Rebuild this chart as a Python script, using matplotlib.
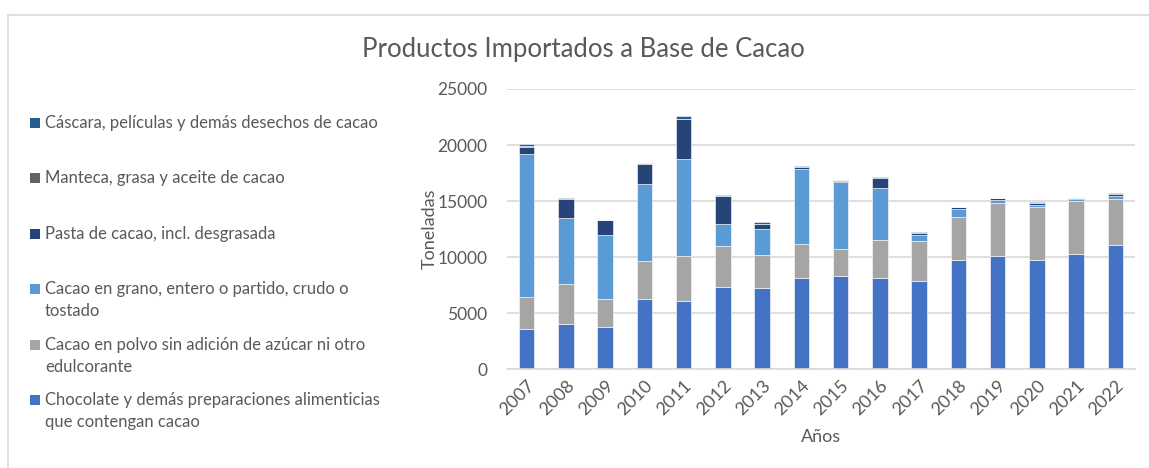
import matplotlib.pyplot as plt
from matplotlib.patches import Rectangle
import numpy as np

plt.rcParams['font.family'] = ['Lato', 'DejaVu Sans']

years = ['2007', '2008', '2009', '2010', '2011', '2012', '2013', '2014',
         '2015', '2016', '2017', '2018', '2019', '2020', '2021', '2022']

chocolate = [3570, 4050, 3720, 6220, 6040, 7320, 7230, 8100, 8270, 8100, 7830, 9700, 10060, 9700, 10300, 11100]
polvo = [2860, 3540, 2500, 3390, 4020, 3690, 2920, 3060, 2470, 3390, 3600, 3870, 4730, 4760, 4670, 4110]
grano = [12800, 5920, 5710, 6880, 8660, 1970, 2320, 6700, 5960, 4670, 560, 750, 270, 150, 180, 240]
pasta = [590, 1700, 1340, 1840, 3570, 2470, 510, 180, 50, 890, 180, 110, 180, 210, 90, 200]
manteca = [100, 0, 0, 30, 0, 0, 0, 0, 100, 0, 0, 0, 0, 0, 0, 0]
cascara = [200, 90, 60, 30, 300, 120, 170, 90, 50, 50, 60, 40, 50, 60, 50, 90]

series_names = [
    'Chocolate y demás preparaciones alimenticias\nque contengan cacao',
    'Cacao en polvo sin adición de azúcar ni otro\nedulcorante',
    'Cacao en grano, entero o partido, crudo o\ntostado',
    'Pasta de cacao, incl. desgrasada',
    'Manteca, grasa y aceite de cacao',
    'Cáscara, películas y demás desechos de cacao',
]
series_values = [chocolate, polvo, grano, pasta, manteca, cascara]
colors = ['#4472C4', '#A5A5A5', '#5B9BD5', '#264478', '#636363', '#255E91']

text_color = '#595959'
grid_color = '#D9D9D9'

fig = plt.figure(figsize=(11.49, 4.68), dpi=100)

# chart frame, only left and top edges fall inside the picture
fig.patches.append(Rectangle((8 / 1149, -0.1), 1.2, (468 - 15) / 468 + 0.1,
                             transform=fig.transFigure, fill=False,
                             edgecolor=grid_color, linewidth=1.2))

ax = fig.add_axes([507 / 1149, 99 / 468, 628 / 1149, 280 / 468])

x = np.arange(len(years))
bottom = np.zeros(len(years))
for vals, color in zip(series_values, colors):
    ax.bar(x, vals, width=0.4, bottom=bottom, color=color,
           edgecolor='white', linewidth=0.4)
    bottom += np.array(vals)

ax.set_xlim(-0.5, len(years) - 0.5)
ax.set_ylim(0, 25000)
ax.set_yticks(np.arange(0, 25001, 5000))
ax.yaxis.grid(True, color=grid_color, linewidth=1.2)
ax.set_axisbelow(True)
for side in ['top', 'right', 'left']:
    ax.spines[side].set_visible(False)
ax.spines['bottom'].set_color(grid_color)
ax.spines['bottom'].set_linewidth(1.2)
ax.tick_params(length=0, colors=text_color, labelsize=12.5)
ax.tick_params(axis='y', pad=14)
ax.tick_params(axis='x', pad=6, labelsize=13)
ax.set_xticks(x)
ax.set_xticklabels(years, rotation=45, ha='right', va='top', rotation_mode='anchor')

ax.set_ylabel('Toneladas', color=text_color, fontsize=13, labelpad=0)
ax.set_xlabel('Años', color=text_color, fontsize=13, labelpad=8)

fig.text(583 / 1149, 1 - 49 / 468, 'Productos Importados a Base de Cacao',
         ha='center', va='center', color=text_color, fontsize=18.5)

# legend on the left, marker spacing is even, multi-line text hangs down
for i, (name, color) in enumerate(zip(series_names[::-1], colors[::-1])):
    y = 1 - (122.7 + 55.5 * i) / 468
    fig.patches.append(Rectangle((30 / 1149, y - 5 / 468), 10 / 1149, 10 / 468,
                                 transform=fig.transFigure, facecolor=color,
                                 edgecolor='none'))
    fig.text(45 / 1149, y + 8 / 468, name, ha='left', va='top', color=text_color,
             fontsize=12, linespacing=1.45)

fig.savefig('out.png', dpi=100)
